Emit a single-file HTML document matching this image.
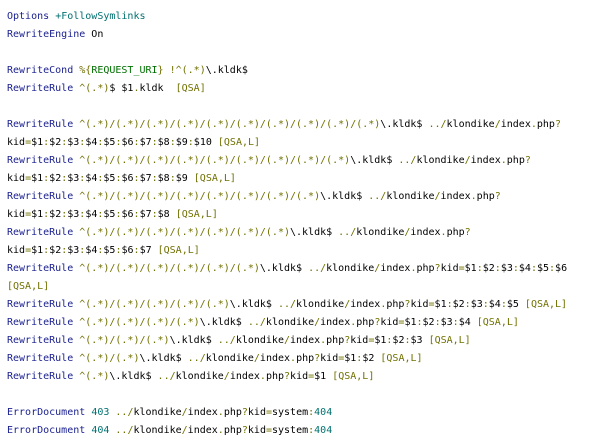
<!DOCTYPE html>
<html><head><meta charset="utf-8"><style>
html,body{margin:0;padding:0;background:#fff;width:600px;height:448px;overflow:hidden}
pre{margin:0;padding:8px 0 0 7px;font-family:"DejaVu Sans Mono","Liberation Mono",monospace;font-size:10px;line-height:18px;color:#000;white-space:pre;letter-spacing:0}
.k{color:#1c2290}.o{color:#707000}.t{color:#007070}.g{color:#007000}
</style></head><body><pre><span class="k">Options</span> <span class="t">+FollowSymlinks</span>
<span class="k">RewriteEngine</span> On

<span class="k">RewriteCond</span> <span class="o">%{</span><span class="g">REQUEST_URI</span><span class="o">} !^(.*)</span>\.kldk$
<span class="k">RewriteRule</span> <span class="o">^(.*)</span>$ $1<span class="o">.</span>kldk  <span class="o">[QSA]</span>

<span class="k">RewriteRule</span> <span class="o">^(.*)/(.*)/(.*)/(.*)/(.*)/(.*)/(.*)/(.*)/(.*)/(.*)</span>\.kldk$ <span class="o">../</span>klondike<span class="o">/</span>index<span class="o">.</span>php<span class="o">?</span>
kid<span class="o">=</span>$1<span class="o">:</span>$2<span class="o">:</span>$3<span class="o">:</span>$4<span class="o">:</span>$5<span class="o">:</span>$6<span class="o">:</span>$7<span class="o">:</span>$8<span class="o">:</span>$9<span class="o">:</span>$10 <span class="o">[QSA,L]</span>
<span class="k">RewriteRule</span> <span class="o">^(.*)/(.*)/(.*)/(.*)/(.*)/(.*)/(.*)/(.*)/(.*)</span>\.kldk$ <span class="o">../</span>klondike<span class="o">/</span>index<span class="o">.</span>php<span class="o">?</span>
kid<span class="o">=</span>$1<span class="o">:</span>$2<span class="o">:</span>$3<span class="o">:</span>$4<span class="o">:</span>$5<span class="o">:</span>$6<span class="o">:</span>$7<span class="o">:</span>$8<span class="o">:</span>$9 <span class="o">[QSA,L]</span>
<span class="k">RewriteRule</span> <span class="o">^(.*)/(.*)/(.*)/(.*)/(.*)/(.*)/(.*)/(.*)</span>\.kldk$ <span class="o">../</span>klondike<span class="o">/</span>index<span class="o">.</span>php<span class="o">?</span>
kid<span class="o">=</span>$1<span class="o">:</span>$2<span class="o">:</span>$3<span class="o">:</span>$4<span class="o">:</span>$5<span class="o">:</span>$6<span class="o">:</span>$7<span class="o">:</span>$8 <span class="o">[QSA,L]</span>
<span class="k">RewriteRule</span> <span class="o">^(.*)/(.*)/(.*)/(.*)/(.*)/(.*)/(.*)</span>\.kldk$ <span class="o">../</span>klondike<span class="o">/</span>index<span class="o">.</span>php<span class="o">?</span>
kid<span class="o">=</span>$1<span class="o">:</span>$2<span class="o">:</span>$3<span class="o">:</span>$4<span class="o">:</span>$5<span class="o">:</span>$6<span class="o">:</span>$7 <span class="o">[QSA,L]</span>
<span class="k">RewriteRule</span> <span class="o">^(.*)/(.*)/(.*)/(.*)/(.*)/(.*)</span>\.kldk$ <span class="o">../</span>klondike<span class="o">/</span>index<span class="o">.</span>php<span class="o">?</span>kid<span class="o">=</span>$1<span class="o">:</span>$2<span class="o">:</span>$3<span class="o">:</span>$4<span class="o">:</span>$5<span class="o">:</span>$6
<span class="o">[QSA,L]</span>
<span class="k">RewriteRule</span> <span class="o">^(.*)/(.*)/(.*)/(.*)/(.*)</span>\.kldk$ <span class="o">../</span>klondike<span class="o">/</span>index<span class="o">.</span>php<span class="o">?</span>kid<span class="o">=</span>$1<span class="o">:</span>$2<span class="o">:</span>$3<span class="o">:</span>$4<span class="o">:</span>$5 <span class="o">[QSA,L]</span>
<span class="k">RewriteRule</span> <span class="o">^(.*)/(.*)/(.*)/(.*)</span>\.kldk$ <span class="o">../</span>klondike<span class="o">/</span>index<span class="o">.</span>php<span class="o">?</span>kid<span class="o">=</span>$1<span class="o">:</span>$2<span class="o">:</span>$3<span class="o">:</span>$4 <span class="o">[QSA,L]</span>
<span class="k">RewriteRule</span> <span class="o">^(.*)/(.*)/(.*)</span>\.kldk$ <span class="o">../</span>klondike<span class="o">/</span>index<span class="o">.</span>php<span class="o">?</span>kid<span class="o">=</span>$1<span class="o">:</span>$2<span class="o">:</span>$3 <span class="o">[QSA,L]</span>
<span class="k">RewriteRule</span> <span class="o">^(.*)/(.*)</span>\.kldk$ <span class="o">../</span>klondike<span class="o">/</span>index<span class="o">.</span>php<span class="o">?</span>kid<span class="o">=</span>$1<span class="o">:</span>$2 <span class="o">[QSA,L]</span>
<span class="k">RewriteRule</span> <span class="o">^(.*)</span>\.kldk$ <span class="o">../</span>klondike<span class="o">/</span>index<span class="o">.</span>php<span class="o">?</span>kid<span class="o">=</span>$1 <span class="o">[QSA,L]</span>

<span class="k">ErrorDocument</span> <span class="t">403</span> <span class="o">../</span>klondike<span class="o">/</span>index<span class="o">.</span>php<span class="o">?</span>kid<span class="o">=</span>system<span class="o">:</span><span class="t">404</span>
<span class="k">ErrorDocument</span> <span class="t">404</span> <span class="o">../</span>klondike<span class="o">/</span>index<span class="o">.</span>php<span class="o">?</span>kid<span class="o">=</span>system<span class="o">:</span><span class="t">404</span></pre></body></html>
